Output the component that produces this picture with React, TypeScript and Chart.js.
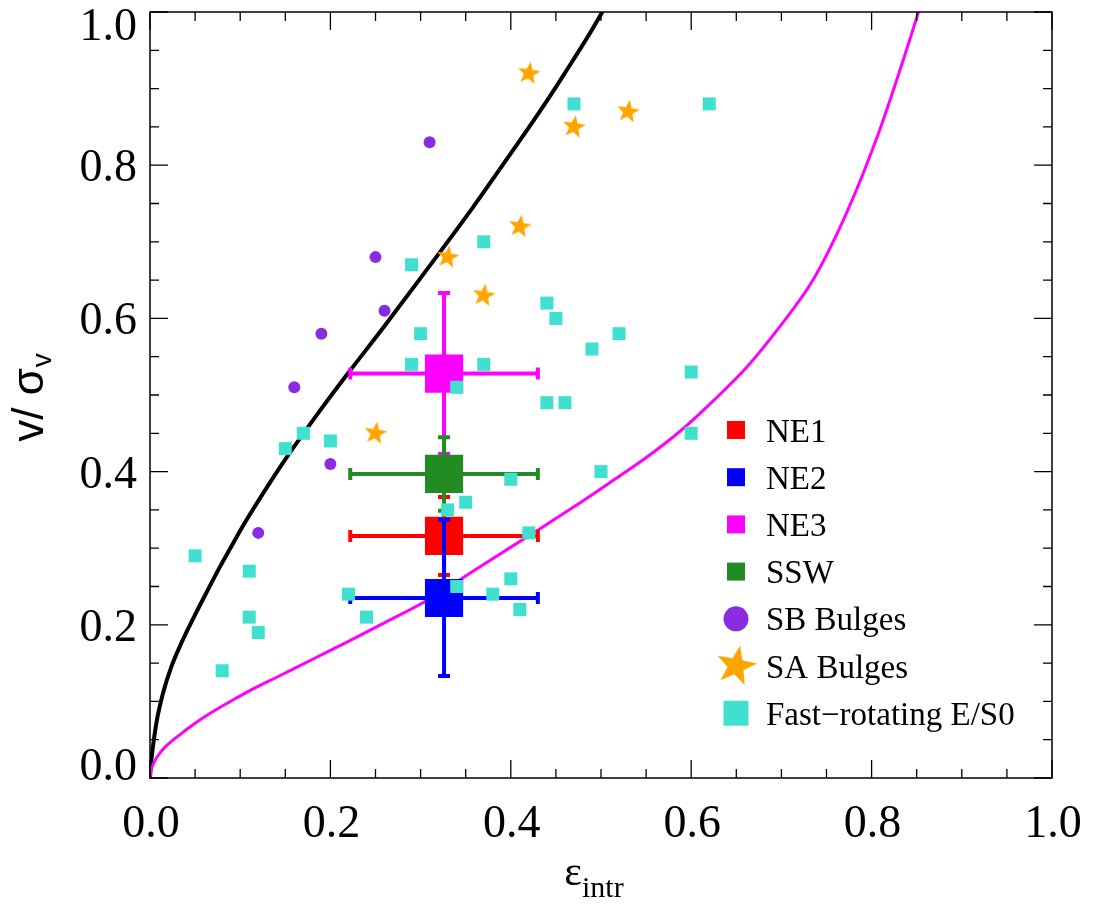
import React, { useEffect, useRef } from 'react';
import { Chart, registerables } from 'chart.js';

Chart.register(...registerables);

// ---------- data ----------
// Isotropic rotator curve (black)
const isoEps = [0, 0.0008, 0.0033, 0.007, 0.0144, 0.0236, 0.0347, 0.0495, 0.0643, 0.0772, 0.09, 0.1035, 0.131, 0.15, 0.185, 0.218, 0.26, 0.297, 0.358, 0.395, 0.432, 0.45, 0.469, 0.486, 0.5015];
const isoV = [0, 0.015, 0.041, 0.0714, 0.1105, 0.145, 0.176, 0.212, 0.246, 0.275, 0.302, 0.33, 0.382, 0.416, 0.474, 0.526, 0.59, 0.648, 0.745, 0.807, 0.87, 0.902, 0.937, 0.969, 1.0];
// Anisotropic curve (magenta)
const anisoEps = [0, 0.001, 0.0025, 0.0052, 0.01, 0.0163, 0.025, 0.0347, 0.0532, 0.0717, 0.09, 0.1086, 0.1456, 0.1826, 0.2195, 0.2565, 0.3045, 0.365, 0.425, 0.47, 0.514, 0.551, 0.588, 0.625, 0.662, 0.698, 0.735, 0.772, 0.809, 0.835, 0.852];
const anisoV = [0, 0.009, 0.015, 0.022, 0.031, 0.04, 0.049, 0.058, 0.074, 0.088, 0.1005, 0.1127, 0.1345, 0.1563, 0.178, 0.2005, 0.23, 0.275, 0.32, 0.354, 0.389, 0.419, 0.453, 0.493, 0.537, 0.589, 0.65, 0.737, 0.846, 0.937, 1.0];

// Regions with error bars
const regionNames = ['NE1', 'NE2', 'NE3', 'SSW'];
const regionEps = [0.326, 0.326, 0.326, 0.326];
const regionV = [0.316, 0.235, 0.528, 0.397];
const regionEpsErr = [0.104, 0.104, 0.104, 0.104];
const regionVErr = [0.051, 0.102, 0.105, 0.048];
const regionColors = ['#ff0000', '#0000ff', '#ff00ff', '#228b22'];

// SB bulges
const sbEps = [0.31, 0.25, 0.26, 0.19, 0.16, 0.20, 0.12];
const sbV = [0.83, 0.68, 0.61, 0.58, 0.51, 0.41, 0.32];
// SA bulges
const saEps = [0.42, 0.47, 0.53, 0.41, 0.33, 0.37, 0.25];
const saV = [0.92, 0.85, 0.87, 0.72, 0.68, 0.63, 0.45];
// Fast-rotating E/S0
const frEps = [0.05, 0.08, 0.11, 0.11, 0.12, 0.15, 0.17, 0.20, 0.22, 0.24, 0.29, 0.29, 0.30, 0.34, 0.37, 0.37, 0.44, 0.45, 0.44, 0.46, 0.47, 0.49, 0.52, 0.50, 0.60, 0.60, 0.62, 0.35, 0.33, 0.40, 0.42, 0.34, 0.38, 0.40, 0.41];
const frV = [0.29, 0.14, 0.27, 0.21, 0.19, 0.43, 0.45, 0.44, 0.24, 0.21, 0.67, 0.54, 0.58, 0.51, 0.70, 0.54, 0.62, 0.60, 0.49, 0.49, 0.88, 0.56, 0.58, 0.40, 0.53, 0.45, 0.88, 0.36, 0.35, 0.39, 0.32, 0.25, 0.24, 0.26, 0.22];

// Axis ticks
const majorTicks = [0, 0.2, 0.4, 0.6, 0.8, 1.0];
const majorLabels = ['0.0', '0.2', '0.4', '0.6', '0.8', '1.0'];
const minorTicks = [0.05, 0.1, 0.15, 0.25, 0.3, 0.35, 0.45, 0.5, 0.55, 0.65, 0.7, 0.75, 0.85, 0.9, 0.95];

const legendLabels = ['NE1', 'NE2', 'NE3', 'SSW', 'SB Bulges', 'SA Bulges', 'Fast\u2212rotating E/S0'];

// ---------- styles ----------
const CYAN = '#40e0d0';
const PURPLE = '#8a2be2';
const ORANGE = '#ffa500';
const SERIF = '"Liberation Serif", "Times New Roman", serif';
const SANS = '"Liberation Sans", Arial, sans-serif';

function starPath(g: CanvasRenderingContext2D, cx: number, cy: number, outer: number, inner: number, rot: number) {
  g.beginPath();
  for (let i = 0; i < 10; i++) {
    const r = i % 2 ? inner : outer;
    const a = -Math.PI / 2 + rot + (i * Math.PI) / 5;
    const px = cx + r * Math.cos(a);
    const py = cy + r * Math.sin(a);
    if (i === 0) g.moveTo(px, py);
    else g.lineTo(px, py);
  }
  g.closePath();
}

function makeStar(outer: number, inner: number, rot: number, color: string) {
  const size = Math.ceil(outer * 2 + 4);
  const c = document.createElement('canvas');
  c.width = size;
  c.height = size;
  const g = c.getContext('2d')!;
  starPath(g, size / 2, size / 2, outer, inner, rot);
  g.fillStyle = color;
  g.fill();
  return c;
}

const errorBarPlugin = {
  id: 'errorBars',
  beforeDatasetDraw(chart: any, args: any) {
    const ds: any = chart.data.datasets[args.index];
    if (!ds.errX) return;
    const xs = chart.scales.x;
    const ys = chart.scales.y;
    const ctx: CanvasRenderingContext2D = chart.ctx;
    ctx.save();
    ctx.strokeStyle = ds.backgroundColor;
    ctx.lineWidth = 4;
    ctx.lineCap = 'butt';
    ds.data.forEach((p: any, i: number) => {
      const ex = ds.errX[i];
      const ey = ds.errY[i];
      const x0 = xs.getPixelForValue(p.x - ex);
      const x1 = xs.getPixelForValue(p.x + ex);
      const y0 = ys.getPixelForValue(p.y - ey);
      const y1 = ys.getPixelForValue(p.y + ey);
      const cx = xs.getPixelForValue(p.x);
      const cy = ys.getPixelForValue(p.y);
      const cap = 6;
      ctx.beginPath();
      ctx.moveTo(x0, cy); ctx.lineTo(x1, cy);
      ctx.moveTo(cx, y0); ctx.lineTo(cx, y1);
      ctx.moveTo(x0, cy - cap); ctx.lineTo(x0, cy + cap);
      ctx.moveTo(x1, cy - cap); ctx.lineTo(x1, cy + cap);
      ctx.moveTo(cx - cap, y0); ctx.lineTo(cx + cap, y0);
      ctx.moveTo(cx - cap, y1); ctx.lineTo(cx + cap, y1);
      ctx.stroke();
    });
    ctx.restore();
  },
};

const frameLegendPlugin = {
  id: 'frameLegend',
  afterDraw(chart: any) {
    const ctx: CanvasRenderingContext2D = chart.ctx;
    const { left, right, top, bottom } = chart.chartArea;
    const xs = chart.scales.x;
    const ys = chart.scales.y;
    ctx.save();
    // frame
    ctx.strokeStyle = '#000';
    ctx.lineWidth = 1.5;
    ctx.strokeRect(left, top, right - left, bottom - top);
    // ticks
    ctx.lineWidth = 1.3;
    const drawTicks = (vals: number[], len: number) => {
      ctx.beginPath();
      vals.forEach((v) => {
        const px = xs.getPixelForValue(v);
        ctx.moveTo(px, bottom); ctx.lineTo(px, bottom - len);
        ctx.moveTo(px, top); ctx.lineTo(px, top + len);
        const py = ys.getPixelForValue(v);
        ctx.moveTo(left, py); ctx.lineTo(left + len, py);
        ctx.moveTo(right, py); ctx.lineTo(right - len, py);
      });
      ctx.stroke();
    };
    drawTicks(majorTicks, 18);
    drawTicks(minorTicks, 9);

    // tick labels
    ctx.fillStyle = '#000';
    ctx.font = `46px ${SERIF}`;
    ctx.textBaseline = 'alphabetic';
    majorTicks.forEach((v, i) => {
      ctx.textAlign = 'center';
      ctx.fillText(majorLabels[i], xs.getPixelForValue(v) + 1, bottom + 59);
      ctx.textAlign = 'right';
      const py = ys.getPixelForValue(v);
      let base = py + 16;
      if (v === 1) base = top + 28;
      if (v === 0) base = bottom + 2;
      ctx.fillText(majorLabels[i], left - 13, base);
    });

    // x title: epsilon_intr
    ctx.textAlign = 'left';
    ctx.font = `42px ${SERIF}`;
    const eW = ctx.measureText('\u03b5').width;
    ctx.font = `30px ${SERIF}`;
    const sW = ctx.measureText('intr').width;
    const xStart = (left + right) / 2 - 7 - (eW + sW) / 2;
    ctx.font = `42px ${SERIF}`;
    ctx.fillText('\u03b5', xStart, bottom + 107);
    ctx.font = `30px ${SERIF}`;
    ctx.fillText('intr', xStart + eW, bottom + 119);

    // y title: v/ sigma_v (rotated)
    ctx.save();
    ctx.font = `44px ${SANS}`;
    const mainTxt = 'v/ \u03c3';
    const mW = ctx.measureText(mainTxt).width;
    ctx.font = `28px ${SANS}`;
    const subW = ctx.measureText('v').width;
    ctx.translate(43, (top + bottom) / 2 + 3);
    ctx.rotate(-Math.PI / 2);
    const ys0 = -(mW + subW) / 2;
    ctx.font = `44px ${SANS}`;
    ctx.fillText(mainTxt, ys0, 0);
    ctx.font = `28px ${SANS}`;
    ctx.fillText('v', ys0 + mW + 1, 8);
    ctx.restore();

    // legend
    const markX = 736;
    const textX = 766;
    const y0 = 430;
    const step = 47.2;
    ctx.font = `33px ${SERIF}`;
    ctx.textAlign = 'left';
    legendLabels.forEach((lab, i) => {
      const cy = y0 + i * step;
      if (i < 4) {
        ctx.fillStyle = regionColors[i];
        ctx.fillRect(markX - 9, cy - 9, 18, 18);
      } else if (i === 4) {
        ctx.fillStyle = PURPLE;
        ctx.beginPath();
        ctx.arc(markX, cy, 12.5, 0, Math.PI * 2);
        ctx.fill();
      } else if (i === 5) {
        ctx.fillStyle = ORANGE;
        starPath(ctx, markX, cy, 21, 8.5, 0.2);
        ctx.fill();
      } else {
        ctx.fillStyle = CYAN;
        ctx.fillRect(markX - 12.5, cy - 12.5, 25, 25);
      }
      ctx.fillStyle = '#000';
      ctx.fillText(lab, textX, cy + 11.5);
    });
    ctx.restore();
  },
};

export default function App() {
  const canvasRef = useRef<HTMLCanvasElement | null>(null);

  useEffect(() => {
    const canvas = canvasRef.current;
    if (!canvas) return;
    const star = makeStar(12, 5, 0.15, ORANGE);

    const toPts = (xa: number[], ya: number[]) => xa.map((x, i) => ({ x, y: ya[i] }));

    const regionDatasets = regionNames.map((name, i) => ({
      label: name,
      data: [{ x: regionEps[i], y: regionV[i] }],
      errX: [regionEpsErr[i]],
      errY: [regionVErr[i]],
      backgroundColor: regionColors[i],
      borderColor: regionColors[i],
      pointStyle: 'rect',
      pointRadius: 27,
      pointBorderWidth: 0,
      order: [6, 5, 4, 3][i],
    }));

    const chart = new Chart(canvas, {
      type: 'scatter',
      data: {
        datasets: [
          {
            label: 'Fast-rotating E/S0',
            data: toPts(frEps, frV),
            backgroundColor: CYAN,
            borderColor: CYAN,
            pointStyle: 'rect',
            pointRadius: 9.2,
            pointBorderWidth: 0,
            order: 0,
          },
          {
            label: 'SA Bulges',
            data: toPts(saEps, saV),
            pointStyle: star,
            pointRadius: 12,
            order: 1,
          },
          {
            label: 'SB Bulges',
            data: toPts(sbEps, sbV),
            backgroundColor: PURPLE,
            borderColor: PURPLE,
            pointStyle: 'circle',
            pointRadius: 6,
            pointBorderWidth: 0,
            order: 2,
          },
          ...regionDatasets,
          {
            label: 'aniso',
            data: toPts(anisoEps, anisoV),
            showLine: true,
            borderColor: '#ff00ff',
            backgroundColor: '#ff00ff',
            borderWidth: 3,
            pointRadius: 0,
            cubicInterpolationMode: 'monotone',
            order: 7,
          },
          {
            label: 'iso',
            data: toPts(isoEps, isoV),
            showLine: true,
            borderColor: '#000000',
            backgroundColor: '#000000',
            borderWidth: 4,
            pointRadius: 0,
            cubicInterpolationMode: 'monotone',
            order: 8,
          },
        ] as any,
      },
      options: {
        responsive: false,
        animation: false,
        events: [],
        layout: { autoPadding: false, padding: { left: 150, top: 12, right: 42, bottom: 127 } },
        plugins: {
          legend: { display: false },
          tooltip: { enabled: false },
        },
        scales: {
          x: { type: 'linear', min: 0, max: 1, display: false },
          y: { type: 'linear', min: 0, max: 1, display: false },
        },
      },
      plugins: [errorBarPlugin, frameLegendPlugin],
    } as any);

    let alive = true;
    if ((document as any).fonts && (document as any).fonts.load) {
      Promise.all([
        document.fonts.load(`46px ${SERIF}`),
        document.fonts.load(`44px ${SANS}`),
      ]).then(() => {
        if (alive) chart.draw();
      }).catch(() => {});
    }

    return () => {
      alive = false;
      chart.destroy();
    };
  }, []);

  return (
    <div style={{ position: 'absolute', left: 0, top: 0, width: 1094, height: 905, background: '#fff' }}>
      <canvas ref={canvasRef} width={1094} height={905} style={{ display: 'block', width: 1094, height: 905 }} />
    </div>
  );
}
